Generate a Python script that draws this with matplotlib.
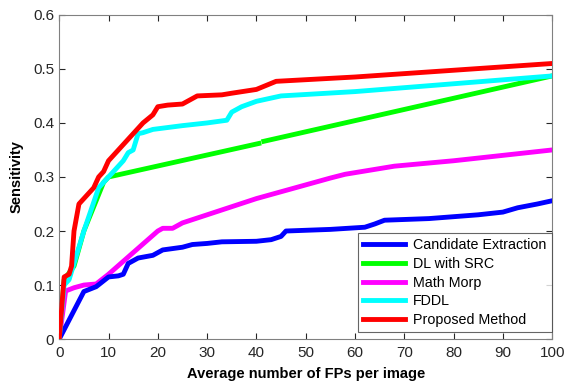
import matplotlib
matplotlib.use("Agg")
import matplotlib.pyplot as plt

plt.rcParams['font.family'] = ['Liberation Sans', 'DejaVu Sans']

ce_x = [0, 5, 7.5, 10, 12, 13, 14, 16, 19, 21, 25, 27, 30, 33, 40, 43, 45, 46, 55, 62, 64, 66, 75, 85, 90, 93, 97, 100]
ce_y = [0, 0.088, 0.097, 0.115, 0.117, 0.12, 0.14, 0.15, 0.155, 0.165, 0.17, 0.175, 0.177, 0.18, 0.181, 0.184, 0.19, 0.2, 0.203, 0.207, 0.213, 0.22, 0.223, 0.23, 0.235, 0.243, 0.25, 0.256]

dl_x = [0, 1, 3, 5, 9, 10, 40.5]
dl_y = [0, 0.11, 0.135, 0.2, 0.29, 0.3, 0.362]
dl2_x = [41.5, 100]
dl2_y = [0.366, 0.487]

mm_x = [0, 1.3, 3, 5, 7.5, 10, 15, 20, 21, 23, 25, 30, 40, 55, 58, 68, 80, 100]
mm_y = [0, 0.089, 0.095, 0.1, 0.102, 0.12, 0.16, 0.2, 0.205, 0.205, 0.215, 0.23, 0.26, 0.298, 0.305, 0.32, 0.33, 0.35]

fd_x = [0, 1, 2, 3, 5, 8, 10, 11, 13, 14, 15, 16, 17, 19, 25, 30, 34, 35, 37, 40, 45, 60, 100]
fd_y = [0, 0.1, 0.11, 0.14, 0.2, 0.28, 0.3, 0.31, 0.33, 0.345, 0.35, 0.38, 0.382, 0.388, 0.395, 0.4, 0.405, 0.42, 0.43, 0.44, 0.45, 0.458, 0.487]

pm_x = [0, 1, 2, 2.5, 3, 4, 5, 7, 8, 9, 10, 12, 13, 15, 17, 19, 20, 22, 25, 28, 33, 35, 40, 44, 60, 100]
pm_y = [0, 0.115, 0.12, 0.135, 0.2, 0.25, 0.26, 0.28, 0.3, 0.31, 0.33, 0.35, 0.36, 0.38, 0.4, 0.415, 0.43, 0.433, 0.435, 0.45, 0.452, 0.455, 0.462, 0.477, 0.485, 0.51]

x_ticks = [0, 10, 20, 30, 40, 50, 60, 70, 80, 90, 100]
y_ticks = [0, 0.1, 0.2, 0.3, 0.4, 0.5, 0.6]

fig = plt.figure(figsize=(5.64, 3.81), dpi=100)
ax = fig.add_axes([0.105, 0.110, 0.874, 0.851])
lw = 3.5
ax.plot(ce_x, ce_y, color='#0000ff', lw=lw, label='Candidate Extraction', zorder=3)
ax.plot(dl_x, dl_y, color='#00ff00', lw=lw, label='DL with SRC', zorder=2)
ax.plot(dl2_x, dl2_y, color='#00ff00', lw=lw, zorder=2)
ax.plot(mm_x, mm_y, color='#ff00ff', lw=lw, label='Math Morp', zorder=2)
ax.plot(fd_x, fd_y, color='#00ffff', lw=lw, label='FDDL', zorder=3)
ax.plot(pm_x, pm_y, color='#ff0000', lw=lw, label='Proposed Method', zorder=4)

ax.set_xlim(0, 100)
ax.set_ylim(0, 0.6)
ax.set_xticks(x_ticks)
ax.set_yticks(y_ticks)
ax.set_xticklabels([str(t) for t in x_ticks])
ax.set_yticklabels(['0', '0.1', '0.2', '0.3', '0.4', '0.5', '0.6'])
ax.tick_params(direction='in', top=True, right=True, labelsize=11, colors='#262626', length=4, width=0.8)
ax.tick_params(axis='x', pad=5)
for s in ax.spines.values():
    s.set_color('#808080')
    s.set_linewidth(0.8)
ax.set_xlabel('Average number of FPs per image', fontsize=10.5, fontweight='bold', labelpad=5)
ax.set_ylabel('Sensitivity', fontsize=10.5, fontweight='bold', labelpad=7)

leg = ax.legend(loc='lower right', bbox_to_anchor=(0.999, 0.022), fontsize=10.3, frameon=True, fancybox=False,
                borderaxespad=0.0, handlelength=2.9, handletextpad=0.6, labelspacing=0.33,
                borderpad=0.35)
leg.get_frame().set_edgecolor('#404040')
leg.get_frame().set_linewidth(0.8)

fig.savefig('out.png', dpi=100)
